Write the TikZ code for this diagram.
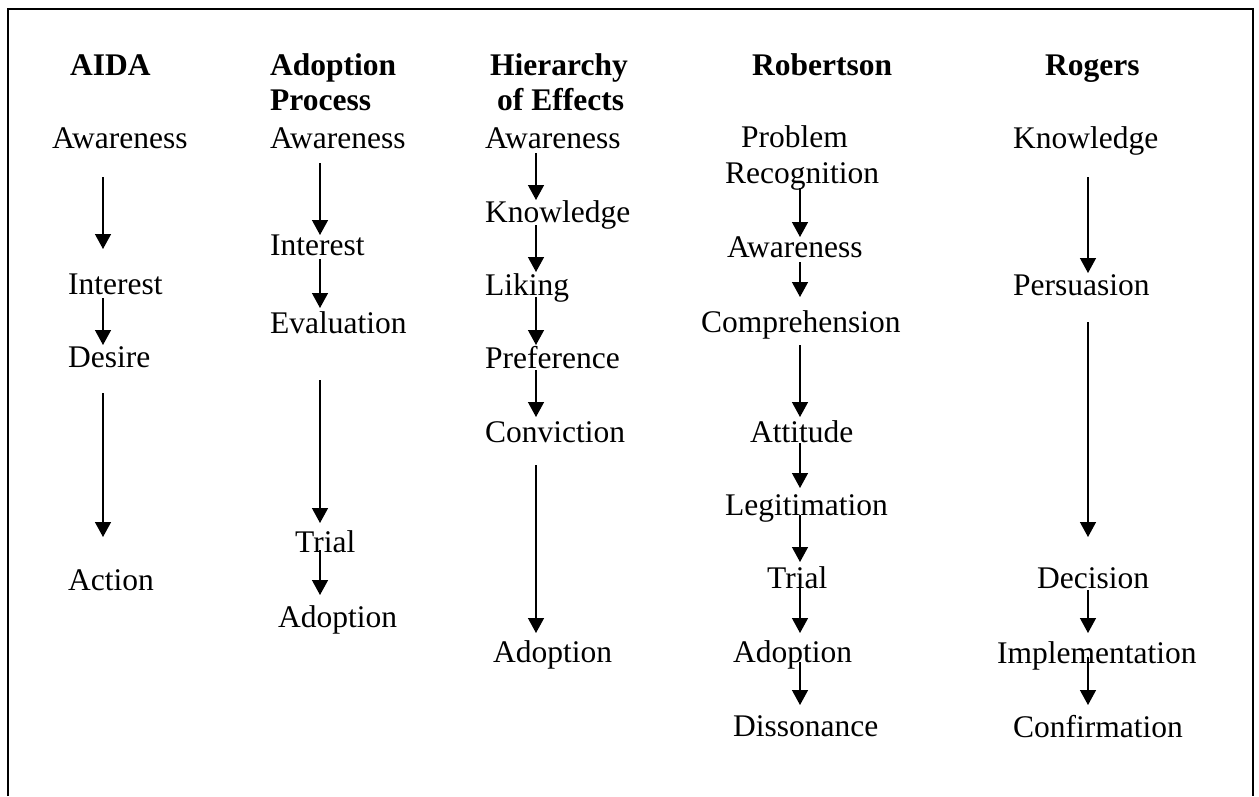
\documentclass[tikz,border=0pt]{standalone}
\usepackage{fontspec}
\setmainfont{Liberation Serif}
\usetikzlibrary{arrows.meta}
\begin{document}
\begin{tikzpicture}[x=1pt,y=-1pt,
  stage/.style={anchor=base west,inner sep=0pt,font=\fontsize{31.5}{36}\selectfont},
  head/.style={stage,font=\fontsize{31.5}{36}\selectfont\bfseries},
  flow/.style={line width=1.4pt,-{Triangle[length=15pt,width=16pt]}}]
\useasboundingbox (0,0) rectangle (1259,796);
% open frame (no bottom edge)
\draw[line width=2pt] (8,796) -- (8,9) -- (1253,9) -- (1253,796);

% --- AIDA ---
\node[head]  (h1)  at (70,75)  {AIDA};
\node[stage] (a1)  at (52,148) {Awareness};
\node[stage] (a2)  at (68,294) {Interest};
\node[stage] (a3)  at (68,367) {Desire};
\node[stage] (a4)  at (68,590) {Action};
\draw[flow] (103,177) coordinate (a1o) -- (103,249) coordinate (a2i);
\draw[flow] (103,298) coordinate (a2o) -- (103,345) coordinate (a3i);
\draw[flow] (103,393) coordinate (a3o) -- (103,537) coordinate (a4i);

% --- Adoption Process ---
\node[head]  (h2a) at (270,75)  {Adoption};
\node[head]  (h2b) at (270,110) {Process};
\node[stage] (b1)  at (270,148) {Awareness};
\node[stage] (b2)  at (270,255) {Interest};
\node[stage] (b3)  at (270,333) {Evaluation};
\node[stage] (b4)  at (295,552) {Trial};
\node[stage] (b5)  at (278,627) {Adoption};
\draw[flow] (320,163) coordinate (b1o) -- (320,235) coordinate (b2i);
\draw[flow] (320,259) coordinate (b2o) -- (320,308) coordinate (b3i);
\draw[flow] (320,380) coordinate (b3o) -- (320,523) coordinate (b4i);
\draw[flow] (320,550) coordinate (b4o) -- (320,595) coordinate (b5i);

% --- Hierarchy of Effects ---
\node[head]  (h3a) at (490,75)  {Hierarchy};
\node[head]  (h3b) at (497,110) {of Effects};
\node[stage] (c1)  at (485,148) {Awareness};
\node[stage] (c2)  at (485,222) {Knowledge};
\node[stage] (c3)  at (485,295) {Liking};
\node[stage] (c4)  at (485,368) {Preference};
\node[stage] (c5)  at (485,442) {Conviction};
\node[stage] (c6)  at (493,662) {Adoption};
\draw[flow] (536,153) coordinate (c1o) -- (536,200) coordinate (c2i);
\draw[flow] (536,225) coordinate (c2o) -- (536,272) coordinate (c3i);
\draw[flow] (536,297) coordinate (c3o) -- (536,345) coordinate (c4i);
\draw[flow] (536,370) coordinate (c4o) -- (536,417) coordinate (c5i);
\draw[flow] (536,465) coordinate (c5o) -- (536,633) coordinate (c6i);

% --- Robertson ---
\node[head]  (h4)  at (752,75)  {Robertson};
\node[stage] (d0)  at (741,147) {Problem};
\node[stage] (d1)  at (725,183) {Recognition};
\node[stage] (d2)  at (727,257) {Awareness};
\node[stage] (d3)  at (701,332) {Comprehension};
\node[stage] (d4)  at (750,442) {Attitude};
\node[stage] (d5)  at (725,515) {Legitimation};
\node[stage] (d6)  at (767,588) {Trial};
\node[stage] (d7)  at (733,662) {Adoption};
\node[stage] (d8)  at (733,736) {Dissonance};
\draw[flow] (800,188) coordinate (d1o) -- (800,237) coordinate (d2i);
\draw[flow] (800,262) coordinate (d2o) -- (800,297) coordinate (d3i);
\draw[flow] (800,345) coordinate (d3o) -- (800,417) coordinate (d4i);
\draw[flow] (800,443) coordinate (d4o) -- (800,488) coordinate (d5i);
\draw[flow] (800,515) coordinate (d5o) -- (800,562) coordinate (d6i);
\draw[flow] (800,588) coordinate (d6o) -- (800,633) coordinate (d7i);
\draw[flow] (800,662) coordinate (d7o) -- (800,705) coordinate (d8i);

% --- Rogers ---
\node[head]  (h5)  at (1045,75)  {Rogers};
\node[stage] (e1)  at (1013,148) {Knowledge};
\node[stage] (e2)  at (1013,295) {Persuasion};
\node[stage] (e3)  at (1037,588) {Decision};
\node[stage] (e4)  at (997,663)  {Implementation};
\node[stage] (e5)  at (1013,737) {Confirmation};
\draw[flow] (1088,177) coordinate (e1o) -- (1088,273) coordinate (e2i);
\draw[flow] (1088,322) coordinate (e2o) -- (1088,537) coordinate (e3i);
\draw[flow] (1088,590) coordinate (e3o) -- (1088,633) coordinate (e4i);
\draw[flow] (1088,657) coordinate (e4o) -- (1088,705) coordinate (e5i);
\end{tikzpicture}
\end{document}
